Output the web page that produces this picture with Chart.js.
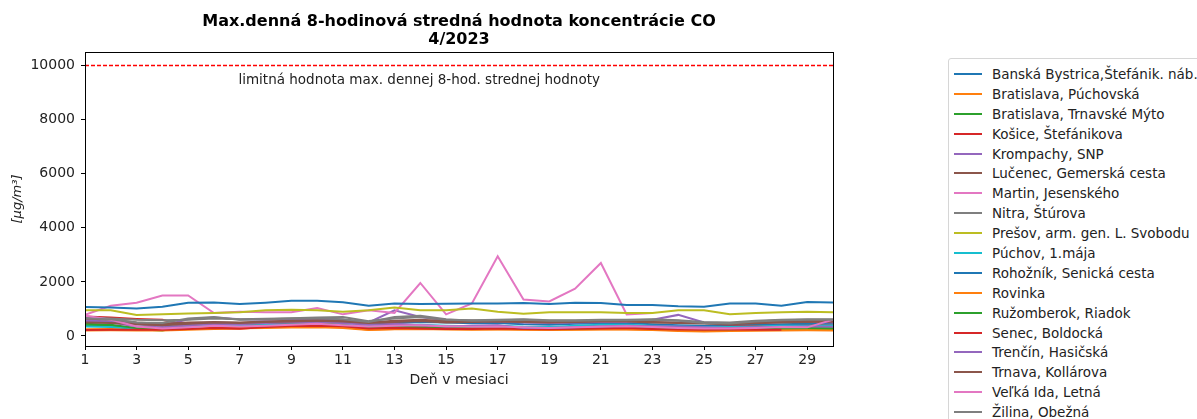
<!DOCTYPE html>
<html>
<head>
<meta charset="utf-8">
<script src="https://cdn.jsdelivr.net/npm/chart.js@4/dist/chart.umd.min.js"></script>
<style>
    body { margin: 0; background: #fff; overflow: hidden; font-family: "DejaVu Sans", sans-serif; }
    #wrap { position: absolute; left: 0; top: 0; width: 860px; height: 419px; }
    #legenda {
        position: absolute; left: 948px; top: 58px; width: 262px; height: 380px;
        border: 1px solid #d6d6d6; border-radius: 3px; background: #fff;
        font-size: 13.5px; color: #222; padding-top: 5px; box-sizing: border-box;
    }
    .item { height: 19.9px; display: flex; align-items: center; white-space: nowrap; }
    .item span.ciara { display: inline-block; width: 28px; height: 2px; margin: 0 10px 0 5px; }
</style>
</head>
<body>
<div id="wrap"><canvas id="grafCO"></canvas></div>
<div id="legenda"></div>
<script>
const dni = Array.from({ length: 30 }, (_, i) => i + 1);

const stanice = [
    'Banská Bystrica,Štefánik. náb.',
    'Bratislava, Púchovská',
    'Bratislava, Trnavské Mýto',
    'Košice, Štefánikova',
    'Krompachy, SNP',
    'Lučenec, Gemerská cesta',
    'Martin, Jesenského',
    'Nitra, Štúrova',
    'Prešov, arm. gen. L. Svobodu',
    'Púchov, 1.mája',
    'Rohožník, Senická cesta',
    'Rovinka',
    'Ružomberok, Riadok',
    'Senec, Boldocká',
    'Trenčín, Hasičská',
    'Trnava, Kollárova',
    'Veľká Ida, Letná',
    'Žilina, Obežná'
];

const banskaBystrica = [520, 540, 430, 400, 450, 480, 470, 500, 530, 540, 500, 420, 480, 520, 500, 470, 480, 430, 420, 450, 470, 480, 430, 400, 380, 400, 420, 430, 450, 440];
const baPuchovska = [250, 260, 240, 230, 260, 300, 290, 300, 310, 320, 300, 220, 260, 280, 260, 250, 260, 240, 230, 240, 250, 250, 230, 210, 200, 210, 220, 230, 240, 230];
const baTrnavskeMyto = [400, 380, 250, 200, 380, 450, 440, 470, 480, 470, 380, 300, 350, 320, 260, 300, 310, 280, 240, 260, 280, 290, 280, 260, 240, 250, 260, 270, 270, 260];
const kosice = [720, 680, 630, 600, 380, 350, 300, 380, 420, 430, 380, 330, 350, 330, 320, 310, 330, 320, 300, 310, 320, 300, 280, 300, 320, 350, 370, 360, 380, 420];
const krompachy = [600, 520, 450, 380, 620, 680, 620, 600, 620, 620, 600, 500, 950, 700, 580, 560, 540, 500, 480, 500, 520, 520, 600, 780, 500, 450, 480, 520, 540, 500];
const lucenec = [650, 600, 500, 450, 500, 520, 500, 540, 560, 580, 560, 500, 560, 600, 550, 560, 550, 540, 520, 540, 560, 560, 520, 500, 480, 450, 500, 530, 550, 560];
const martin = [780, 1120, 1230, 1500, 1500, 850, 900, 880, 880, 1030, 800, 950, 850, 1960, 800, 1200, 2950, 1350, 1280, 1750, 2700, 800, 850, null, null, null, null, null, null, null];
const nitra = [700, 650, 600, 580, 600, 650, 620, 640, 660, 680, 700, 550, 650, 700, 600, 580, 600, 620, 580, 580, 600, 600, 620, 580, 520, 500, 560, 600, 620, 620];
const presov = [950, 950, 780, 800, 830, 850, 880, 950, 970, 950, 900, 950, 1050, 950, 950, 1020, 900, 820, 880, 880, 880, 850, 850, 950, 950, 800, 850, 880, 900, 880];
const puchov = [350, 330, 280, 260, 330, 400, 380, 420, 450, 460, 420, 350, 400, 420, 380, 360, 380, 340, 330, 380, 420, 420, 380, 350, 330, 330, 350, 380, 380, 400];
const rohoznik = [1070, 1050, 1020, 1080, 1230, 1240, 1180, 1230, 1300, 1300, 1250, 1120, 1200, 1180, 1190, 1200, 1200, 1220, 1180, 1230, 1220, 1150, 1150, 1100, 1080, 1200, 1200, 1120, 1260, 1240];
const rovinka = [200, 210, 200, 200, 230, 260, 280, 320, 350, 360, 330, 230, 250, 260, 240, 230, 240, 230, 220, 230, 240, 240, 220, 180, 170, 180, 190, 200, 210, 200];
const ruzomberok = [450, 420, 300, 280, 420, 480, 460, 480, 500, 500, 400, 320, 350, 330, 280, 320, 330, 300, 260, 280, 300, 310, 300, 280, 260, 250, 280, 300, 300, 300];
const senec = [220, 230, 230, 230, 260, 300, 270, 330, 370, 380, 360, 280, 300, 280, 260, 260, 280, 260, 250, 270, 280, 300, 260, 240, 230, 240, 230, 230, null, null];
const trencin = [550, 500, 350, 320, 400, 450, 430, 480, 500, 520, 480, 420, 450, 400, 350, 380, 400, 300, 300, 320, 360, 380, 360, 350, 320, 300, 320, 340, 350, 340];
const trnava = [500, 480, 430, 400, 450, 500, 480, 520, 540, 560, 540, 480, 520, 550, 500, 520, 540, 520, 500, 520, 540, 540, 500, 480, 460, 430, 470, 500, 520, 530];
const velkaIda = [750, 600, 350, 280, 320, 380, 350, 380, 420, 450, 400, 350, 380, 400, 360, 340, 350, 320, 300, 320, 340, 360, 330, 300, 280, 280, 300, 330, 320, 600];
const zilina = [650, 620, 500, 480, 650, 700, 600, 620, 650, 660, 620, 520, 700, 750, 620, 560, 580, 600, 560, 560, 580, 580, 600, 560, 480, 460, 540, 580, 600, 600];

const hodnoty = [banskaBystrica, baPuchovska, baTrnavskeMyto, kosice, krompachy, lucenec, martin, nitra,
    presov, puchov, rohoznik, rovinka, ruzomberok, senec, trencin, trnava, velkaIda, zilina];

const limit = 10000;
const yTicks = [0, 2000, 4000, 6000, 8000, 10000];
const xTicks = [1, 3, 5, 7, 9, 11, 13, 15, 17, 19, 21, 23, 25, 27, 29];

// farby ako v matplotlib (tab10)
const farby = ['#1f77b4', '#ff7f0e', '#2ca02c', '#d62728', '#9467bd', '#8c564b', '#e377c2', '#7f7f7f', '#bcbd22', '#17becf'];

const nadpis = ['Max.denná 8-hodinová stredná hodnota koncentrácie CO', '4/2023'];
const textLimit = 'limitná hodnota max. dennej 8-hod. strednej hodnoty';
const textLimitPoz = { x: 6.95, y: 9450 };

const datasets = stanice.map((nazov, i) => ({
    label: nazov,
    data: dni.map((d, j) => ({ x: d, y: hodnoty[i][j] })),
    borderColor: farby[i % 10],
    backgroundColor: farby[i % 10],
    borderWidth: 2,
    pointRadius: 0,
    tension: 0,
    spanGaps: false,
    order: -i
}));

datasets.push({
    label: 'limit',
    data: dni.map(d => ({ x: d, y: limit })),
    borderColor: 'rgb(255, 0, 0)',
    backgroundColor: 'rgb(255, 0, 0)',
    borderWidth: 1.5,
    borderDash: [4, 2],
    pointRadius: 0,
    order: -100
});

const ramik = {
    id: 'ramik',
    afterDatasetsDraw(chart) {
        const { ctx, chartArea: a, scales } = chart;
        ctx.save();
        ctx.strokeStyle = '#000';
        ctx.lineWidth = 1;
        ctx.setLineDash([]);
        ctx.strokeRect(a.left + 0.5, a.top + 0.5, a.right - a.left, a.bottom - a.top);
        ctx.fillStyle = '#222';
        ctx.font = '13.5px "DejaVu Sans"';
        ctx.textBaseline = 'middle';
        ctx.textAlign = 'left';
        ctx.fillText(textLimit, scales.x.getPixelForValue(textLimitPoz.x), scales.y.getPixelForValue(textLimitPoz.y));
        // nadpis nad stredom grafu
        ctx.fillStyle = '#000';
        ctx.font = 'bold 16px "DejaVu Sans"';
        ctx.textAlign = 'center';
        const stred = (a.left + a.right) / 2;
        ctx.fillText(nadpis[0], stred, 22);
        ctx.fillText(nadpis[1], stred, 40);
        ctx.restore();
    }
};

const pismo = { family: '"DejaVu Sans"', size: 14 };

new Chart(document.getElementById('grafCO'), {
    type: 'line',
    data: { datasets },
    plugins: [ramik],
    options: {
        responsive: true,
        maintainAspectRatio: false,
        animation: false,
        layout: { padding: { left: 0, right: 27, top: 52, bottom: 0 } },
        plugins: {
            legend: { display: false },
            tooltip: { enabled: false },
            title: { display: false }
        },
        scales: {
            x: {
                type: 'linear',
                min: 1,
                max: 30,
                afterBuildTicks: s => { s.ticks = xTicks.map(v => ({ value: v })); },
                afterFit: s => { s.height = 73; },
                ticks: { color: '#222', font: pismo, padding: 2, maxRotation: 0 },
                grid: { drawOnChartArea: false, drawTicks: true, tickLength: 4, color: '#000' },
                border: { color: '#000' },
                title: { display: true, text: 'Deň v mesiaci', color: '#222', font: pismo, padding: { top: 0, bottom: 30 } }
            },
            y: {
                min: -370,
                max: 10500,
                afterBuildTicks: s => { s.ticks = yTicks.map(v => ({ value: v })); },
                afterFit: s => { s.width = 85; },
                ticks: { color: '#222', font: pismo, padding: 6, callback: v => String(v) },
                grid: { drawOnChartArea: false, drawTicks: true, tickLength: 4, color: '#000' },
                border: { color: '#000' },
                title: { display: true, text: '[μg/m³]', color: '#222', font: { family: '"DejaVu Sans"', size: 13, style: 'italic' }, padding: { top: 10, bottom: 0 } }
            }
        }
    }
});

// legenda ako v matplotlib
const legenda = document.getElementById('legenda');
stanice.forEach((nazov, i) => {
    const riadok = document.createElement('div');
    riadok.className = 'item';
    riadok.innerHTML = '<span class="ciara" style="background:' + farby[i % 10] + '"></span>' + nazov;
    legenda.appendChild(riadok);
});
</script>
</body>
</html>
